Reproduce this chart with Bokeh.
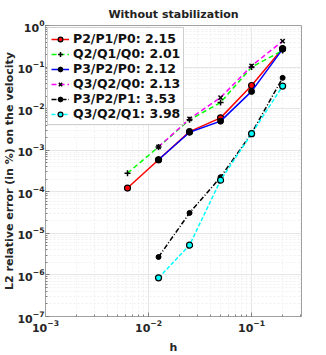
from bokeh.plotting import figure
from bokeh.models import Legend, LegendItem, Range1d
from bokeh.embed import file_html
from bokeh.resources import INLINE

h_all = [0.00625, 0.0125, 0.025, 0.05, 0.1, 0.2]
h_from2 = [0.0125, 0.025, 0.05, 0.1, 0.2]

err_p2p1p0 = [1.23e-4, 5.9e-4, 2.8e-3, 6.0e-3, 3.6e-2, 0.28]
err_q2q1q0 = [2.8e-4, 1.2e-3, 5.4e-3, 1.4e-2, 0.10, 0.25]
err_p3p2p0 = [5.9e-4, 2.7e-3, 5.0e-3, 2.6e-2, 0.27]
err_q3q2q0 = [1.2e-3, 5.7e-3, 1.85e-2, 0.107, 0.42]
err_p3p2p1 = [2.7e-6, 3.1e-5, 2.25e-4, 2.55e-3, 5.5e-2]
err_q3q2q1 = [8.5e-7, 5.2e-6, 1.9e-4, 2.5e-3, 3.5e-2]

labels = ["P2/P1/P0: 2.15", "Q2/Q1/Q0: 2.01", "P3/P2/P0: 2.12",
          "Q3/Q2/Q0: 2.13", "P3/P2/P1: 3.53", "Q3/Q2/Q1: 3.98"]

FONT = "DejaVu Sans"

p = figure(frame_width=256, frame_height=291, x_axis_type="log", y_axis_type="log",
           x_range=Range1d(1e-3, 0.305), y_range=Range1d(1e-7, 1.0),
           output_backend="svg", toolbar_location=None,
           title="Without stabilization")
p.min_border_left = 36
p.min_border_right = 18
p.min_border_top = 17
p.min_border_bottom = 37

p.title.text_font = FONT
p.title.text_font_size = "11px"
p.title.text_font_style = "bold"
p.title.align = "center"
p.title.text_color = "#222222"
p.title.standoff = 10

for ax in (p.xaxis[0], p.yaxis[0]):
    ax.major_label_text_font = FONT
    ax.major_label_text_font_size = "11px"
    ax.major_label_text_font_style = "bold"
    ax.major_label_text_color = "#262626"
    ax.axis_label_text_font = FONT
    ax.axis_label_text_font_size = "11px"
    ax.axis_label_text_font_style = "bold"
    ax.axis_label_text_color = "#262626"
    ax.axis_line_color = "#a0a0a0"
    ax.major_tick_line_color = "#808080"
    ax.minor_tick_line_color = "#808080"
    ax.major_tick_in = 4
    ax.major_tick_out = 0
    ax.minor_tick_in = 2
    ax.minor_tick_out = 0

p.xaxis.axis_label = "h"
p.xaxis.axis_label_standoff = 6
p.xaxis.major_label_standoff = 3
p.yaxis.axis_label = "L2 relative error (in %) on the velocity"
p.yaxis.axis_label_standoff = -2
p.yaxis.major_label_standoff = 1

p.outline_line_color = "#a0a0a0"
p.grid.grid_line_color = "#e6e6e6"
p.grid.minor_grid_line_color = "#f0f0f0"
p.grid.minor_grid_line_dash = "2 2"

items = []

r1 = p.line(h_all, err_p2p1p0, line_color="red", line_width=1.5)
m1 = p.scatter(h_all, err_p2p1p0, marker="circle", size=6, line_color="black", fill_color="red", line_width=1.2)
items.append(LegendItem(label=labels[0], renderers=[r1, m1]))

r2 = p.line(h_all, err_q2q1q0, line_color="#00ff00", line_width=1.5, line_dash="5 3")
m2 = p.scatter(h_all, err_q2q1q0, marker="cross", size=6, line_color="black", line_width=1.5)
items.append(LegendItem(label=labels[1], renderers=[r2, m2]))

r3 = p.line(h_from2, err_p3p2p0, line_color="blue", line_width=1.5)
m3 = p.scatter(h_from2, err_p3p2p0, marker="circle", size=6, line_color="black", fill_color="black")
items.append(LegendItem(label=labels[2], renderers=[r3, m3]))

r4 = p.line(h_from2, err_q3q2q0, line_color="magenta", line_width=1.5, line_dash="5 3")
m4 = p.scatter(h_from2, err_q3q2q0, marker="x", size=6, line_color="black", line_width=1.5)
items.append(LegendItem(label=labels[3], renderers=[r4, m4]))

r5 = p.line(h_from2, err_p3p2p1, line_color="black", line_width=1.5, line_dash="5 2 1 2")
m5 = p.scatter(h_from2, err_p3p2p1, marker="circle", size=5, line_color="black", fill_color="black")
items.append(LegendItem(label=labels[4], renderers=[r5, m5]))

r6 = p.line(h_from2, err_q3q2q1, line_color="cyan", line_width=1.5, line_dash="4 2")
m6 = p.scatter(h_from2, err_q3q2q1, marker="circle", size=6, line_color="black", fill_color="cyan", line_width=1.2)
items.append(LegendItem(label=labels[5], renderers=[r6, m6]))

legend = Legend(items=items, location="top_left")
legend.label_text_font = FONT
legend.label_text_font_size = "12.5px"
legend.label_text_font_style = "bold"
legend.label_text_color = "#111111"
legend.border_line_color = "#a0a0a0"
legend.background_fill_alpha = 1.0
legend.glyph_width = 18
legend.glyph_height = 12
legend.label_height = 12
legend.spacing = 0
legend.padding = 3
legend.margin = 2
legend.label_standoff = 4
p.add_layout(legend)

open("out.html", "w").write(file_html(p, INLINE))
